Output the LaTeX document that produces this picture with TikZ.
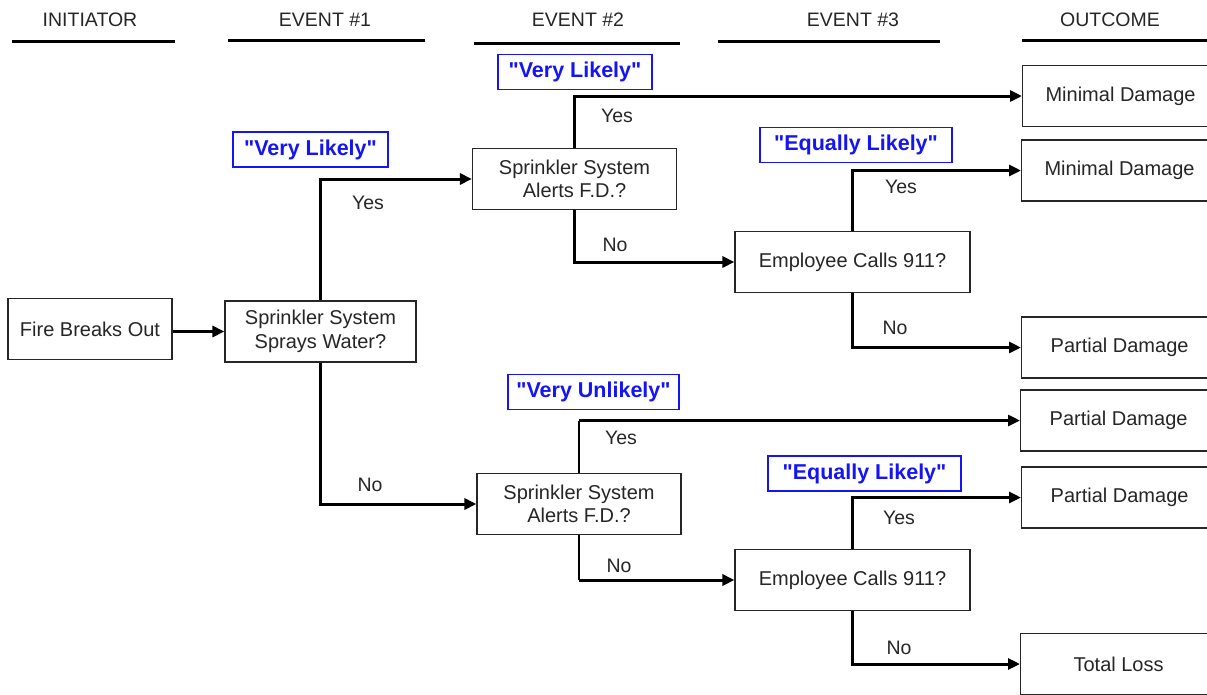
\documentclass[tikz,border=0pt]{standalone}
\usepackage{fontspec}
\setmainfont{Liberation Sans}
\newfontfamily\qfont{Liberation Sans}[Ligatures=TeXOff]
\usetikzlibrary{arrows.meta}
\definecolor{lblue}{RGB}{20,20,245}
\begin{document}
\begin{tikzpicture}[x=1pt,y=-1pt,
  every node/.style={text=black!85},
  box/.style={draw=black!85, line width=1.2pt, minimum height=61pt, align=center, inner sep=0pt, font=\fontsize{20}{23.5}\selectfont},
  outbox/.style={box, minimum width=196pt},
  prob/.style={draw=lblue, line width=1.5pt, text=lblue, inner sep=0pt, minimum height=35pt, font=\qfont\fontsize{21.5}{24}\bfseries\selectfont},
  hdr/.style={font=\fontsize{19.5}{23}\selectfont},
  hline/.style={line width=3pt},
  yn/.style={font=\fontsize{19.5}{23}\selectfont},
  conn/.style={line width=3pt, -{Triangle[length=12pt,width=11pt]}},
  thinconn/.style={line width=1.6pt}
]
\clip (0,0) rectangle (1207,694);
\fill[white] (0,0) rectangle (1207,694);

% headers
\node[hdr] (h0) at (90,20) {INITIATOR};
\node[hdr] (h1) at (325,20) {EVENT \#1};
\node[hdr] (h2) at (578,20) {EVENT \#2};
\node[hdr] (h3) at (853,20) {EVENT \#3};
\node[hdr] (h4) at (1110,20) {OUTCOME};
\draw[hline] (12,41) -- (175,41);
\draw[hline] (228,40) -- (425,40);
\draw[hline] (474,43) -- (680,43);
\draw[hline] (718,41) -- (940,41);
\draw[hline] (1022,40) -- (1207,40);

% boxes
\node[box, minimum width=164pt] (fire) at (90,329) {Fire Breaks Out};
\node[box, minimum width=191pt] (spray) at (320.5,331.5) {Sprinkler System\\Sprays Water?};
\node[box, minimum width=204pt] (alertA) at (574.5,179) {Sprinkler System\\Alerts F.D.?};
\node[box, minimum width=235pt] (callA) at (852.5,262) {Employee Calls 911?};
\node[box, minimum width=204pt] (alertB) at (579,504) {Sprinkler System\\Alerts F.D.?};
\node[box, minimum width=235pt] (callB) at (852.5,580) {Employee Calls 911?};

% outcomes
\node[outbox, anchor=west] (o1) at (1022,96) {Minimal Damage};
\node[outbox, anchor=west] (o2) at (1021,170.5) {Minimal Damage};
\node[outbox, anchor=west] (o3) at (1021,347.5) {Partial Damage};
\node[outbox, anchor=west] (o4) at (1020,420.5) {Partial Damage};
\node[outbox, anchor=west] (o5) at (1021,497.5) {Partial Damage};
\node[outbox, anchor=west] (o6) at (1020,664) {Total Loss};

% probability labels
\node[prob, minimum width=155pt] (p1) at (310.5,149.5) {"Very Likely"};
\node[prob, minimum width=154pt] (p2) at (575,72) {"Very Likely"};
\node[prob, minimum width=192pt] (p3) at (856,145) {"Equally Likely"};
\node[prob, minimum width=171pt] (p4) at (593.5,392) {"Very Unlikely"};
\node[prob, minimum width=193pt] (p5) at (864.5,473.5) {"Equally Likely"};

% yes / no labels
\node[yn] (y1) at (368,203) {Yes};
\node[yn] (n1) at (370,485) {No};
\node[yn] (y2) at (617,116) {Yes};
\node[yn] (n2) at (615,245) {No};
\node[yn] (y3) at (901,187) {Yes};
\node[yn] (n3) at (895,328) {No};
\node[yn] (y4) at (621,438) {Yes};
\node[yn] (n4) at (619,566) {No};
\node[yn] (y5) at (899,518) {Yes};
\node[yn] (n5) at (899,648) {No};

% connectors
\draw[conn] (spray.west -| fire.east) -- (spray.west);
\draw[conn] (spray.north) |- (alertA.west);
\draw[conn] (spray.south) |- (alertB.west);
\draw[conn] (alertA.north) |- (o1.west);
\draw[conn] (alertA.south) |- (callA.west);
\draw[conn] (callA.north) |- (o2.west);
\draw[conn] (callA.south) |- (o3.west);
\draw[thinconn] (alertB.north) -- (alertB.north |- o4.west);
\draw[conn] (alertB.north |- o4.west) -- (o4.west);
\draw[thinconn] (alertB.south) -- (alertB.south |- callB.west);
\draw[conn] (alertB.south |- callB.west) -- (callB.west);
\draw[conn] (callB.north) |- (o5.west);
\draw[conn] (callB.south) |- (o6.west);
\end{tikzpicture}
\end{document}
